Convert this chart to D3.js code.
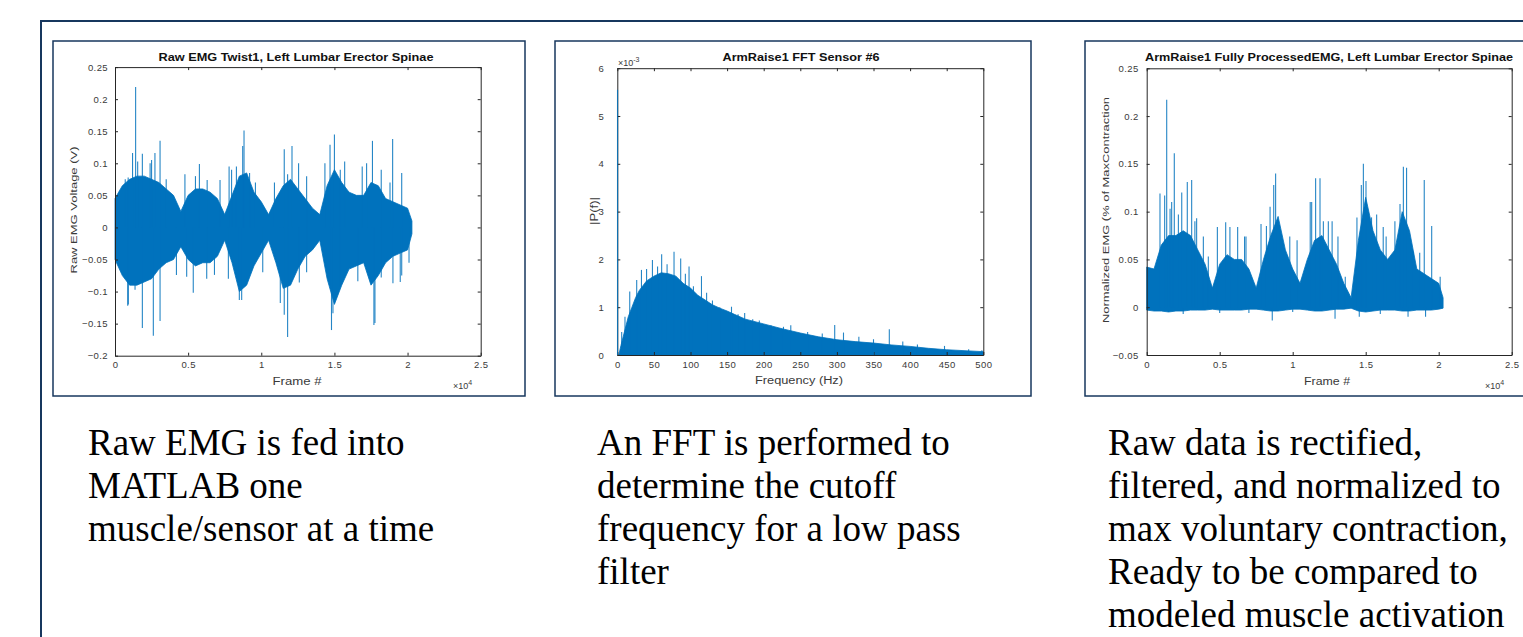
<!DOCTYPE html>
<html>
<head>
<meta charset="utf-8">
<script src="https://cdn.jsdelivr.net/npm/d3@7"></script>
<style>
body { margin: 0; background: #fff; overflow: hidden; }
svg { display: block; }
.caption { font-family: "Liberation Serif", "Times New Roman", serif; font-size: 37px; fill: #000; }
</style>
</head>
<body>
<script>
//Envelope sample frames (shared by the two EMG plots)
var envFrames = [0,500,1000,1500,2000,2500,3000,3500,4000,4500,5000,5500,6000,6500,7000,7500,8000,8500,9000,9500,
  10000,10500,11000,11500,12000,12500,13000,13500,14000,14500,15000,15500,16000,16500,17000,17500,18000,18500,19000,19500,20000,20300];

//Raw EMG, dense body
var rawUpper = [0.045,0.065,0.075,0.08,0.08,0.075,0.07,0.06,0.05,0.025,0.05,0.06,0.06,0.055,0.045,0.02,0.05,0.08,0.085,0.055,
  0.04,0.02,0.045,0.065,0.075,0.06,0.045,0.03,0.02,0.065,0.09,0.07,0.055,0.05,0.05,0.07,0.065,0.045,0.04,0.035,0.03,0.01];
var rawLower = [-0.05,-0.075,-0.09,-0.09,-0.085,-0.08,-0.065,-0.055,-0.05,-0.03,-0.05,-0.06,-0.055,-0.055,-0.045,-0.02,-0.055,-0.1,-0.09,-0.06,
  -0.04,-0.02,-0.055,-0.095,-0.09,-0.065,-0.045,-0.035,-0.02,-0.08,-0.12,-0.09,-0.065,-0.06,-0.055,-0.09,-0.075,-0.055,-0.045,-0.04,-0.035,-0.01];
//Raw EMG, single spikes
var rawSpikeFrames = [1410,1200,1870,3080,2730,1550,5770,8820,8730,7800,11570,12100,12550,15000,14700,14350,17600,18980,19600,4780,
  5500,7180,6300,17200,15700,700,900,2400,2500,3500,7970,8300,9200,9600,10900,11800,13100,15400,16900,18200,18800,
  2620,1870,3080,870,5350,8660,11800,11570,14800,14900,17700,19000,19600,17770,19500,910,1370,4200,4900,6270,6800,7750,
  10100,11300,12600,13100,15400,16600,18200,20100,8500];
var rawSpikeValues = [0.219,0.116,0.115,0.135,0.116,0.103,0.099,0.151,0.127,0.095,0.122,0.127,0.1,0.145,0.129,0.1,0.135,0.138,0.085,0.083,
  0.08,0.074,0.074,0.1,0.103,0.075,0.078,0.1,0.105,0.075,0.09,0.095,0.085,0.07,0.07,0.083,0.08,0.09,0.095,0.09,0.07,
  -0.169,-0.157,-0.146,-0.122,-0.102,-0.113,-0.171,-0.136,-0.16,-0.134,-0.152,-0.087,-0.075,-0.149,-0.085,-0.12,-0.097,-0.074,-0.077,-0.08,-0.074,-0.08,
  -0.07,-0.118,-0.086,-0.07,-0.092,-0.084,-0.078,-0.055,-0.113];

//FFT magnitude (x 1e-3)
var fftFreq = [2,5,10,15,20,25,30,40,50,60,70,80,90,100,110,120,130,140,150,160,175,200,225,250,275,300,325,350,375,400,425,450,475,500];
var fftUpper = [0,0.2,0.5,0.8,1.0,1.2,1.35,1.55,1.65,1.72,1.7,1.65,1.5,1.4,1.25,1.15,1.05,0.98,0.92,0.85,0.75,0.65,0.55,0.46,0.38,0.32,0.28,0.25,0.21,0.18,0.14,0.11,0.09,0.07];
var fftSpikeFreq = [0.3,6,10.5,17,26.5,33,40,48,55,60.6,68,77.5,86.6,93,98,104,115,122,130,140,156,165,174,185,194,210,227,237,260,280,297,309,330,350,371.6,390,410,447,480,498];
var fftSpikeValues = [5.55,0.48,0.8,1.33,1.57,1.78,1.8,1.99,1.85,2.11,1.9,2.16,2.02,1.7,1.85,1.44,1.65,1.3,1.14,1.0,1.01,0.85,0.88,0.75,0.72,0.62,0.59,0.62,0.48,0.45,0.63,0.47,0.38,0.33,0.54,0.28,0.22,0.19,0.12,0.1];

//Fully processed EMG
var procUpper = [0.042,0.04,0.065,0.075,0.075,0.08,0.075,0.06,0.045,0.02,0.045,0.055,0.05,0.05,0.04,0.02,0.05,0.075,0.095,0.06,
  0.04,0.025,0.05,0.07,0.075,0.06,0.045,0.025,0.01,0.07,0.115,0.08,0.06,0.05,0.06,0.1,0.08,0.04,0.035,0.03,0.025,0.01];
var procLower = [-0.003,-0.004,-0.004,-0.005,-0.004,-0.004,-0.003,-0.003,-0.003,-0.002,-0.003,-0.003,-0.003,-0.003,-0.002,-0.002,-0.003,-0.004,-0.004,-0.003,
  -0.002,-0.002,-0.003,-0.004,-0.004,-0.003,-0.002,-0.002,-0.001,-0.004,-0.005,-0.004,-0.003,-0.003,-0.003,-0.004,-0.004,-0.003,-0.003,-0.003,-0.002,-0.001];
var procSpikeFrames = [1370,1890,910,1230,1600,2780,3080,2400,3420,4840,5410,6230,6800,7830,8830,8700,8200,10300,11570,11870,11300,12440,12700,
  14840,15020,14700,14400,15750,16400,17580,17800,17350,19010,19520,20100,13600,1710,2170,3300,3880,4220,5700,6700,8450,9130,9800,
  11200,12100,13100,15400,16200,17000,18260,18700,
  8600,12900,17900,19100,14560,2500,5000,7000,10000,16000];
var procSpikeValues = [0.217,0.161,0.119,0.117,0.103,0.131,0.133,0.12,0.093,0.084,0.089,0.084,0.074,0.087,0.14,0.128,0.085,0.07,0.135,0.135,0.11,0.09,0.09,
  0.15,0.132,0.128,0.094,0.097,0.074,0.147,0.146,0.108,0.133,0.085,0.032,0.032,0.11,0.097,0.09,0.074,0.053,0.084,0.074,0.105,0.08,0.074,
  0.11,0.09,0.074,0.094,0.084,0.09,0.058,0.057,
  -0.014,-0.012,-0.01,-0.01,-0.01,-0.007,-0.006,-0.006,-0.005,-0.007];

//Tick labels
var emgFrameTicks = [0,5000,10000,15000,20000,25000];
var rawVoltTicks = [-0.2,-0.15,-0.1,-0.05,0,0.05,0.1,0.15,0.2,0.25];
var fftFreqTicks = [0,50,100,150,200,250,300,350,400,450,500];
var fftMagTicks = [0,1,2,3,4,5,6];
var procTicks = [-0.05,0,0.05,0.1,0.15,0.2,0.25];

var blue = "#0072BD";
var navy = "#17375e";
var axisCol = "#262626";

var svg = d3.select("body").append("svg")
  .attr("width", 1523)
  .attr("height", 637);

//Slide frame
svg.append("rect")
  .attr("x", 41).attr("y", 21)
  .attr("width", 1600).attr("height", 700)
  .attr("fill", "none").attr("stroke", navy).attr("stroke-width", 2);

//Figure boxes
[[53,41,472,355],[555,41,476,355],[1085,41,500,355]].forEach(function(b){
  svg.append("rect")
    .attr("x", b[0]).attr("y", b[1]).attr("width", b[2]).attr("height", b[3])
    .attr("fill", "#fff").attr("stroke", navy).attr("stroke-width", 1.5);
});

function drawAxes(g, x, y, xTicks, yTicks, xFmt, yFmt, yPad){
  var y0 = y.range()[0], y1 = y.range()[1];
  var x0 = x.range()[0], x1 = x.range()[1];
  g.append("g").attr("transform", "translate(0," + y0 + ")")
    .call(d3.axisBottom(x).tickValues(xTicks).tickSizeInner(-3).tickSizeOuter(0).tickPadding(6).tickFormat(xFmt));
  g.append("g").attr("transform", "translate(0," + y1 + ")")
    .call(d3.axisTop(x).tickValues(xTicks).tickSizeInner(-3).tickSizeOuter(0).tickFormat(""));
  g.append("g").attr("transform", "translate(" + x0 + ",0)")
    .call(d3.axisLeft(y).tickValues(yTicks).tickSizeInner(-3).tickSizeOuter(0).tickPadding(yPad).tickFormat(yFmt));
  g.append("g").attr("transform", "translate(" + x1 + ",0)")
    .call(d3.axisRight(y).tickValues(yTicks).tickSizeInner(-3).tickSizeOuter(0).tickFormat(""));
  g.selectAll(".domain, .tick line").attr("stroke", axisCol).attr("stroke-width", 1);
  g.selectAll(".tick text")
    .attr("fill", "#3a3a3a")
    .style("font-family", "'Liberation Sans', Arial, sans-serif")
    .style("font-size", "9.5px")
    .style("letter-spacing", "0.4px");
}

function drawBody(g, x, y, xs, up, lo){
  var pts = xs.map(function(d, i){ return {x: d, u: up[i], l: lo[i]}; });
  g.append("path")
    .datum(pts)
    .attr("fill", blue)
    .attr("stroke", blue)
    .attr("stroke-width", 0.8)
    .attr("d", d3.area()
      .x(function(d){ return x(d.x); })
      .y0(function(d){ return y(d.l); })
      .y1(function(d){ return y(d.u); }));
}

function drawSpikes(g, x, y, xs, vals){
  g.selectAll(null)
    .data(xs.map(function(d, i){ return {x: d, v: vals[i]}; }))
    .enter().append("line")
    .attr("x1", function(d){ return x(d.x); })
    .attr("x2", function(d){ return x(d.x); })
    .attr("y1", y(0))
    .attr("y2", function(d){ return y(d.v); })
    .attr("stroke", blue)
    .attr("stroke-width", 1.1)
    .attr("opacity", 0.85);
}

function label(g, txt, x, y, opts){
  var t = g.append("text")
    .attr("x", x).attr("y", y)
    .attr("text-anchor", "middle")
    .attr("dominant-baseline", "middle")
    .style("font-family", "'Liberation Sans', Arial, sans-serif")
    .style("font-size", (opts.size || 10) + "px")
    .style("font-weight", opts.bold ? "bold" : "normal")
    .attr("fill", opts.bold ? "#111" : "#3a3a3a")
    .text(txt);
  if (opts.len) t.attr("textLength", opts.len).attr("lengthAdjust", "spacingAndGlyphs");
  if (opts.rot) t.attr("transform", "rotate(-90," + x + "," + y + ")");
  return t;
}

function exponent(g, x, y, base, pow){
  var t = g.append("text")
    .attr("x", x).attr("y", y)
    .style("font-family", "'Liberation Sans', Arial, sans-serif")
    .style("font-size", "9px")
    .attr("fill", "#3a3a3a");
  t.append("tspan").text("\u00d7" + base);
  t.append("tspan").attr("dy", -4).style("font-size", "7px").text(pow);
}

//Panel 1 - raw EMG
var g1 = svg.append("g");
var x1 = d3.scaleLinear().domain([0, 25000]).range([115, 480.7]);
var y1 = d3.scaleLinear().domain([-0.2, 0.25]).range([355.7, 67.1]);
drawBody(g1, x1, y1, envFrames, rawUpper, rawLower);
drawSpikes(g1, x1, y1, rawSpikeFrames, rawSpikeValues);
drawAxes(g1, x1, y1, emgFrameTicks, rawVoltTicks, function(d){ return d / 1e4; }, function(d){ return d3.format("~g")(d); }, 7);
label(g1, "Raw EMG Twist1, Left Lumbar Erector Spinae", 296, 58, {bold: true, size: 10, len: 275});
label(g1, "Raw EMG Voltage (V)", 74, 210, {rot: true, size: 9.5, len: 127});
label(g1, "Frame #", 297, 382, {size: 10, len: 49});
exponent(g1, 453, 389, "10", "4");

//Panel 2 - FFT
var g2 = svg.append("g");
var x2 = d3.scaleLinear().domain([0, 500]).range([617.3, 983.3]);
var y2 = d3.scaleLinear().domain([0, 6]).range([355, 68.2]);
drawBody(g2, x2, y2, fftFreq, fftUpper, fftFreq.map(function(){ return 0; }));
drawAxes(g2, x2, y2, fftFreqTicks, fftMagTicks, d3.format("d"), d3.format("d"), 13);
drawSpikes(g2, x2, y2, fftSpikeFreq, fftSpikeValues);
label(g2, "ArmRaise1 FFT Sensor #6", 801, 58, {bold: true, size: 10, len: 157});
label(g2, "|P(f)|", 595, 211, {rot: true, size: 10.5, len: 28});
label(g2, "Frequency (Hz)", 799, 381, {size: 10, len: 88});
exponent(g2, 618, 66, "10", "-3");

//Panel 3 - fully processed EMG
var g3 = svg.append("g");
var x3 = d3.scaleLinear().domain([0, 25000]).range([1146.7, 1511.7]);
var y3 = d3.scaleLinear().domain([-0.05, 0.25]).range([355, 68.3]);
drawBody(g3, x3, y3, envFrames, procUpper, procLower);
drawSpikes(g3, x3, y3, procSpikeFrames, procSpikeValues);
drawAxes(g3, x3, y3, emgFrameTicks, procTicks, function(d){ return d / 1e4; }, function(d){ return d3.format("~g")(d); }, 8);
label(g3, "ArmRaise1 Fully ProcessedEMG, Left Lumbar Erector Spinae", 1329, 58, {bold: true, size: 10, len: 368});
label(g3, "Normalized EMG (% of MaxContraction", 1106, 210, {rot: true, size: 9.5, len: 226});
label(g3, "Frame #", 1327, 382, {size: 10, len: 46});
exponent(g3, 1485, 389, "10", "4");

//Captions
var captions = [
  {x: 88, lines: ["Raw EMG is fed into", "MATLAB one", "muscle/sensor at a time"]},
  {x: 597, lines: ["An FFT is performed to", "determine the cutoff", "frequency for a low pass", "filter"]},
  {x: 1108, lines: ["Raw data is rectified,", "filtered, and normalized to", "max voluntary contraction,", "Ready to be compared to", "modeled muscle activation"]}
];
captions.forEach(function(c){
  c.lines.forEach(function(l, i){
    svg.append("text")
      .attr("class", "caption")
      .attr("x", c.x)
      .attr("y", 455 + i * 43)
      .text(l);
  });
});
</script>
</body>
</html>
